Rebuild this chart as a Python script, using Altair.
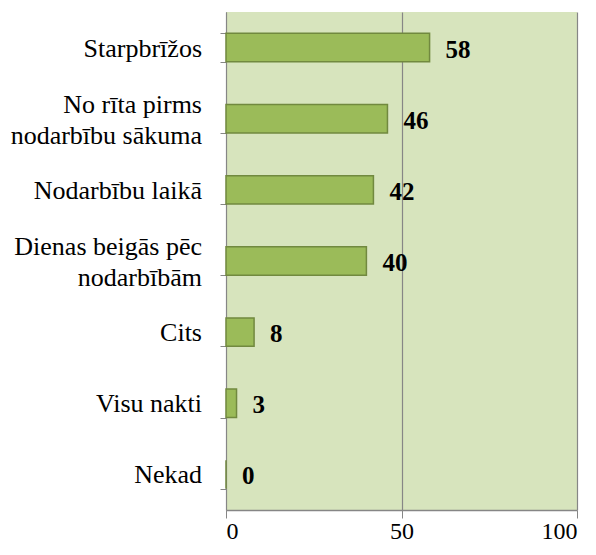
import altair as alt
import pandas as pd

categories = ["Starpbrīžos", "No rīta pirms|nodarbību sākuma", "Nodarbību laikā",
              "Dienas beigās pēc|nodarbībām", "Cits", "Visu nakti", "Nekad"]
values = [58, 46, 42, 40, 8, 3, 0]
x_ticks = [0, 50, 100]

df = pd.DataFrame({"cat": categories, "val": values})

font = "Liberation Serif"

y_scale = alt.Scale(paddingInner=0.6, paddingOuter=0.3)
y_enc = alt.Y("cat:N", sort=None, title=None, scale=y_scale,
              axis=alt.Axis(labels=False, tickSize=6, tickColor="#868686",
                            domainColor="#868686", tickBand="extent"))
x_enc = alt.X("val:Q", title=None,
              scale=alt.Scale(domain=[0, 100], nice=False),
              axis=alt.Axis(values=x_ticks, grid=True, gridColor="#868686", gridWidth=1.2,
                            labelPadding=1, tickSize=8, tickColor="#868686",
                            domainColor="#868686", domainWidth=1.5,
                            labelFont=font, labelFontSize=24, labelColor="black"))

base = alt.Chart(df)

bars = base.mark_bar(color="#9bbb59", stroke="#71893f", strokeWidth=1.5).encode(
    x=x_enc, y=y_enc)

values_text = base.mark_text(align="left", baseline="middle", dx=16, dy=2,
                             font=font, fontSize=25, fontWeight="bold",
                             color="black").encode(
    x="val:Q", y=alt.Y("cat:N", sort=None), text="val:Q")

cat_single = base.transform_filter("indexof(datum.cat, '|') < 0").mark_text(
    align="right", baseline="middle", lineBreak="|", lineHeight=31,
    font=font, fontSize=26, color="black", dy=1).encode(
    x=alt.value(-24), y=alt.Y("cat:N", sort=None), text="cat:N")

cat_double = base.transform_filter("indexof(datum.cat, '|') >= 0").mark_text(
    align="right", baseline="middle", lineBreak="|", lineHeight=31,
    font=font, fontSize=26, color="black", dy=-14).encode(
    x=alt.value(-24), y=alt.Y("cat:N", sort=None), text="cat:N")

chart = (bars + values_text + cat_single + cat_double).properties(
    width=351, height=498,
    autosize=alt.AutoSizeParams(type="none"),
    padding={"left": 218, "top": 4, "right": 11, "bottom": 37}
).configure_view(fill="#d7e4bd", stroke=None)

chart.save("out.html", embed_options={"renderer": "svg", "actions": False})
